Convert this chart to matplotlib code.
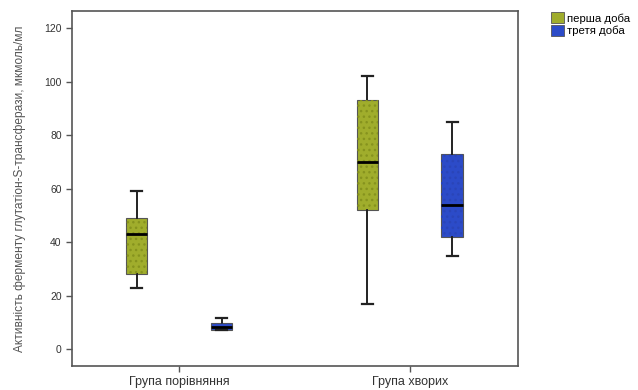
import matplotlib.pyplot as plt
from matplotlib.patches import Patch, PathPatch

plt.rcParams['font.family'] = ['Liberation Sans', 'DejaVu Sans']

groups = ['Група порівняння', 'Група хворих']
days = ['перша доба', 'третя доба']
colors = ['#a0ad2c', '#2c4bc8']

# box stats per day: [group1, group2] as (whislo, q1, med, q3, whishi)
first_day = [(23, 28, 43, 49, 59), (17, 52, 70, 93, 102)]
third_day = [(7, 7.3, 8.3, 9.6, 11.5), (35, 42, 54, 73, 85)]

fig = plt.figure(figsize=(6.38, 3.9), dpi=100)
ax = fig.add_axes([0.113, 0.0615, 0.699, 0.911])

offset = 0.184
width = 0.095
for d, (stats, col) in enumerate(zip([first_day, third_day], colors)):
    bxp = []
    for s in stats:
        bxp.append(dict(whislo=s[0], q1=s[1], med=s[2], q3=s[3], whishi=s[4], fliers=[]))
    pos = [g + (d * 2 - 1) * offset for g in range(len(groups))]
    res = ax.bxp(bxp, positions=pos, widths=width, patch_artist=True,
                 showfliers=False,
                 boxprops=dict(facecolor=col, edgecolor='#555555', linewidth=0.8),
                 medianprops=dict(color='black', linewidth=2, zorder=4),
                 whiskerprops=dict(color='#222222', linewidth=1.4),
                 capprops=dict(color='#222222', linewidth=1.6),
                 capwidths=width * 0.5)
    # dotted texture on top of boxes, under the median
    for box in res['boxes']:
        tex = PathPatch(box.get_path(), facecolor='none',
                        edgecolor='#86931e' if d == 0 else '#2a45b8',
                        hatch='...', linewidth=0, zorder=3)
        ax.add_patch(tex)

ax.set_xlim(-0.463, 1.468)
ax.set_ylim(-6.3, 126.5)
ax.set_yticks([0, 20, 40, 60, 80, 100, 120])
ax.set_xticks(range(len(groups)))
ax.set_xticklabels(groups, fontsize=9, color='#333333')
ax.tick_params(axis='y', labelsize=7.5, length=4, width=1, colors='#555555', labelcolor='#333333')
ax.tick_params(axis='x', length=4, width=1, colors='#555555', labelcolor='#333333', pad=3)
for sp in ax.spines.values():
    sp.set_color('#555555')
    sp.set_linewidth(1.2)

ax.set_ylabel('Активність ферменту глутатіон-S-трансферази, мкмоль/мл',
              fontsize=8.6, color='#555555', labelpad=13)

handles = [Patch(facecolor=c, edgecolor='#555555', linewidth=0.6) for c in colors]
fig.legend(handles, days, loc='upper left', bbox_to_anchor=(0.848, 0.995),
           frameon=False, fontsize=8.2, handlelength=1.1, handleheight=1.1,
           handletextpad=0.25, labelspacing=0.1)

fig.savefig('out.png', dpi=100)
